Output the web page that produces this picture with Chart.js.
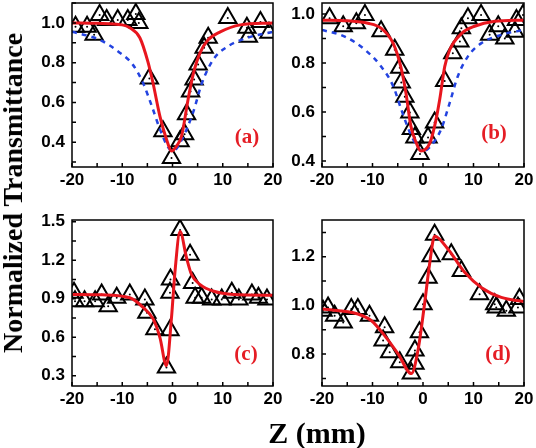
<!DOCTYPE html>
<html>
<head>
<meta charset="utf-8">
<script src="https://cdn.jsdelivr.net/npm/chart.js@4.4.1/dist/chart.umd.min.js"></script>
<style>
  body { margin: 0; background: #fff; }
  #wrap { position: relative; width: 536px; height: 448px; overflow: hidden; }
  canvas { position: absolute; }
  .ytitle {
    position: absolute; left: 13px; top: 193px;
    transform: translate(-50%, -50%) rotate(-90deg);
    font: bold 28px "Liberation Serif", "Times New Roman", serif;
    white-space: nowrap; color: #000;
  }
  .xtitle {
    position: absolute; left: 317px; top: 433px;
    transform: translate(-50%, -50%);
    font: bold 30px "Liberation Serif", "Times New Roman", serif;
    white-space: nowrap; color: #000;
  }
  .tag {
    position: absolute; transform: translate(-50%, -50%);
    font: bold 21px "Liberation Serif", "Times New Roman", serif;
    color: #e51d25;
  }
</style>
</head>
<body>
<div id="wrap">
  <canvas id="chartA" width="275" height="199" style="left:12px;top:0px"></canvas>
  <canvas id="chartB" width="274" height="199" style="left:262px;top:0px"></canvas>
  <canvas id="chartC" width="275" height="211" style="left:12px;top:207px"></canvas>
  <canvas id="chartD" width="274" height="211" style="left:262px;top:207px"></canvas>
  <div class="ytitle">Normalized Transmittance</div>
  <div class="xtitle">Z (mm)</div>
  <div class="tag" style="left:247px;top:136px">(a)</div>
  <div class="tag" style="left:494px;top:132px">(b)</div>
  <div class="tag" style="left:246px;top:353px">(c)</div>
  <div class="tag" style="left:498px;top:353px">(d)</div>
</div>
<script>
// ==================== DATA ====================
const xTicks = [-20, -10, 0, 10, 20];

// (a)
const zA   = [-19.3, -17, -15.6, -14.5, -13.1, -10.9, -8.9, -7.3, -6.7, -4.6, -1.9, -0.2, 1.5, 2.4, 2.8, 3.6, 4.3, 5.1, 6.3, 7.1, 11, 14.8, 15.1, 17.5, 19.2];
const tA   = [0.98, 0.98, 0.94, 1.04, 1.015, 1.015, 1.015, 1.045, 1.0, 0.72, 0.455, 0.32, 0.405, 0.44, 0.54, 0.655, 0.715, 0.79, 0.875, 0.925, 1.025, 0.975, 0.93, 1.005, 0.95];
const fitZA = [-20, -15, -10, -8.5, -6.5, -4.9, -3.9, -2.5, -1.2, -0.2, 0.8, 1.8, 3.1, 4.1, 5.5, 7.1, 9.5, 13.5, 20];
const fitA  = [1.0, 0.998, 0.99, 0.975, 0.925, 0.805, 0.70, 0.53, 0.415, 0.355, 0.38, 0.43, 0.615, 0.74, 0.85, 0.915, 0.955, 0.99, 1.0];
const dashZA = [-20, -14.5, -10.5, -7.9, -5.9, -4.1, -2.5, -0.9, 0.1, 1.9, 4.1, 5.9, 8.1, 10.9, 14.9, 20];
const dashA  = [0.955, 0.915, 0.85, 0.79, 0.70, 0.58, 0.465, 0.375, 0.355, 0.415, 0.55, 0.70, 0.815, 0.88, 0.925, 0.955];
const yTicksA = [0.4, 0.6, 0.8, 1.0];

// (b)
const zB   = [-18.5, -15.8, -13.2, -11.5, -8.3, -5.6, -4.6, -4.3, -3.6, -2.6, -2.3, -1.6, -0.6, 1.0, 2.3, 4.3, 5.9, 7.3, 7.6, 8.9, 11.5, 13.2, 14.9, 16.2, 18.2, 18.5, 19.8];
const tB   = [0.983, 0.95, 0.962, 0.996, 0.93, 0.854, 0.78, 0.72, 0.662, 0.598, 0.53, 0.496, 0.428, 0.496, 0.557, 0.726, 0.84, 0.888, 0.942, 0.983, 0.996, 0.915, 0.95, 0.90, 0.928, 0.976, 0.996];
const fitZB = [-20, -15, -10.9, -8.3, -5.9, -4.4, -3.4, -2.4, -1.4, -0.4, 1.3, 2.3, 3.3, 4.3, 5.3, 7.6, 10.2, 14.2, 20];
const fitB  = [0.975, 0.972, 0.962, 0.942, 0.88, 0.785, 0.68, 0.542, 0.477, 0.44, 0.47, 0.542, 0.65, 0.785, 0.854, 0.92, 0.95, 0.97, 0.975];
const dashZB = [-20, -15.5, -11.5, -8.3, -5.9, -4.3, -2.6, -1.0, 0, 1.6, 3.6, 5.3, 6.9, 8.9, 11.5, 15.5, 20];
const dashB  = [0.935, 0.908, 0.854, 0.786, 0.705, 0.61, 0.516, 0.456, 0.44, 0.462, 0.53, 0.638, 0.746, 0.827, 0.88, 0.915, 0.935];
const yTicksB = [0.4, 0.6, 0.8, 1.0];

// (c)
const zC   = [-19.6, -19.4, -17.5, -15.4, -14.1, -12.8, -11.1, -8.5, -5.5, -5.1, -3.5, -1.2, -0.5, -0.5, -0.4, 1.5, 3.5, 4.0, 4.5, 5.8, 7.8, 9.8, 11.8, 13.2, 15.8, 17.1, 18.8];
const tC   = [0.946, 0.88, 0.88, 0.88, 0.933, 0.842, 0.907, 0.933, 0.894, 0.79, 0.662, 0.365, 0.654, 0.946, 1.049, 1.436, 1.242, 1.023, 0.907, 0.907, 0.894, 0.894, 0.946, 0.894, 0.933, 0.907, 0.894];
const fitZC = [-20, -14, -8.5, -5.8, -3.8, -2.5, -1.2, -0.2, 0.5, 1.5, 2.8, 3.8, 5.5, 8.2, 12.2, 20];
const fitC  = [0.933, 0.93, 0.907, 0.83, 0.739, 0.597, 0.378, 0.752, 1.113, 1.423, 1.217, 1.087, 1.01, 0.958, 0.933, 0.927];
const yTicksC = [0.3, 0.6, 0.9, 1.2, 1.5];

// (d)
const zD   = [-19.8, -18.8, -17.5, -15.8, -14.2, -12.9, -10.6, -7.6, -7.9, -6.6, -4.6, -2.3, -1.6, -1.6, -0.7, 0, 1.0, 1.6, 2.3, 5.6, 7.6, 11.2, 14.2, 14.5, 16.5, 18.8, 19.1];
const tD   = [0.978, 0.992, 0.958, 0.93, 0.985, 0.985, 0.958, 0.91, 0.856, 0.808, 0.767, 0.72, 0.76, 0.815, 0.89, 1.005, 1.114, 1.202, 1.29, 1.21, 1.141, 1.046, 1.005, 0.992, 0.978, 0.992, 1.026];
const fitZD = [-20, -12.9, -10.2, -7.6, -4.9, -2.3, -1.0, 0.3, 1.3, 2.3, 5.0, 8.3, 11.6, 15.5, 20];
const fitD  = [0.985, 0.965, 0.937, 0.876, 0.80, 0.72, 0.815, 1.005, 1.169, 1.284, 1.23, 1.135, 1.073, 1.033, 1.016];
const yTicksD = [0.8, 1.0, 1.2];

// ==================== HELPERS ====================
const RED = '#e8161e';
const BLUE = '#2343e0';
const TICK_FONT = { family: 'Liberation Sans, Arial, sans-serif', size: 17, weight: 'bold' };

function pts(xs, ys) { return xs.map((x, i) => ({ x: x, y: ys[i] })); }

// frame on all four sides + small inward ticks
const frameTicks = {
  id: 'frameTicks',
  afterDatasetsDraw(chart) {
    const { ctx, chartArea: a, scales: { x, y } } = chart;
    ctx.save();
    ctx.strokeStyle = '#000';
    ctx.lineWidth = 1.5;
    ctx.beginPath();
    for (let v = -20; v <= 20; v += 5) {
      const px = x.getPixelForValue(v);
      ctx.moveTo(px, a.bottom); ctx.lineTo(px, a.bottom - 4);
    }
    const tv = y.ticks.map(t => t.value);
    const half = (tv[1] - tv[0]) / 2;
    for (let v = tv[0] - half * 4; v <= y.max + 1e-9; v += half) {
      if (v < y.min - 1e-9) continue;
      const py = y.getPixelForValue(v);
      ctx.moveTo(a.left, py); ctx.lineTo(a.left + 4, py);
    }
    ctx.stroke();
    ctx.strokeRect(a.left, a.top, a.width, a.height);
    ctx.restore();
  }
};

function makePanel(id, opt) {
  const datasets = [
    { data: pts(opt.fitZ, opt.fit), showLine: true, pointRadius: 0, borderColor: RED, borderWidth: 3,
      cubicInterpolationMode: 'monotone', order: 0 }
  ];
  if (opt.dashZ) {
    datasets.push({ data: pts(opt.dashZ, opt.dash), showLine: true, pointRadius: 0, borderColor: BLUE,
      borderWidth: 2.5, borderDash: [5, 5], cubicInterpolationMode: 'monotone', order: 1 });
  }
  datasets.push({ data: pts(opt.z, opt.t), pointStyle: 'triangle', pointRadius: 10, borderWidth: 2,
    borderColor: '#000', backgroundColor: 'rgba(255,255,255,0)', order: 3 });
  datasets.push({ data: pts(opt.z, opt.t), pointRadius: 1, borderWidth: 0,
    backgroundColor: '#000', order: 2 });

  return new Chart(document.getElementById(id), {
    type: 'scatter',
    data: { datasets: datasets },
    options: {
      responsive: false,
      animation: false,
      devicePixelRatio: 1,
      layout: { autoPadding: false, padding: { left: 0, top: opt.padT, right: opt.padR, bottom: 0 } },
      plugins: { legend: { display: false }, tooltip: { enabled: false } },
      scales: {
        x: {
          type: 'linear', min: -20, max: 20,
          grid: { display: false, drawTicks: false },
          border: { display: false },
          afterBuildTicks: s => { s.ticks = xTicks.map(v => ({ value: v })); },
          afterFit: s => { s.height = 32; s.paddingLeft = 0; s.paddingRight = 0; },
          ticks: { color: '#000', font: TICK_FONT, padding: 3, maxRotation: 0 }
        },
        y: {
          type: 'linear', min: opt.yMin, max: opt.yMax,
          grid: { display: false, drawTicks: false },
          border: { display: false },
          afterBuildTicks: s => { s.ticks = opt.yTicks.map(v => ({ value: v })); },
          afterFit: s => { s.width = 60; s.paddingTop = 0; s.paddingBottom = 0; },
          ticks: { color: '#000', font: TICK_FONT, padding: 7, callback: v => v.toFixed(1) }
        }
      }
    },
    plugins: [frameTicks]
  });
}

// ==================== PANELS ====================
makePanel('chartA', { z: zA, t: tA, fitZ: fitZA, fit: fitA, dashZ: dashZA, dash: dashA,
  yMin: 0.275, yMax: 1.1, yTicks: yTicksA, padT: 3, padR: 14 });
makePanel('chartB', { z: zB, t: tB, fitZ: fitZB, fit: fitB, dashZ: dashZB, dash: dashB,
  yMin: 0.375, yMax: 1.045, yTicks: yTicksB, padT: 3, padR: 12 });
makePanel('chartC', { z: zC, t: tC, fitZ: fitZC, fit: fitC,
  yMin: 0.22, yMax: 1.513, yTicks: yTicksC, padT: 13, padR: 14 });
makePanel('chartD', { z: zD, t: tD, fitZ: fitZD, fit: fitD,
  yMin: 0.669, yMax: 1.351, yTicks: yTicksD, padT: 13, padR: 12 });
</script>
</body>
</html>
